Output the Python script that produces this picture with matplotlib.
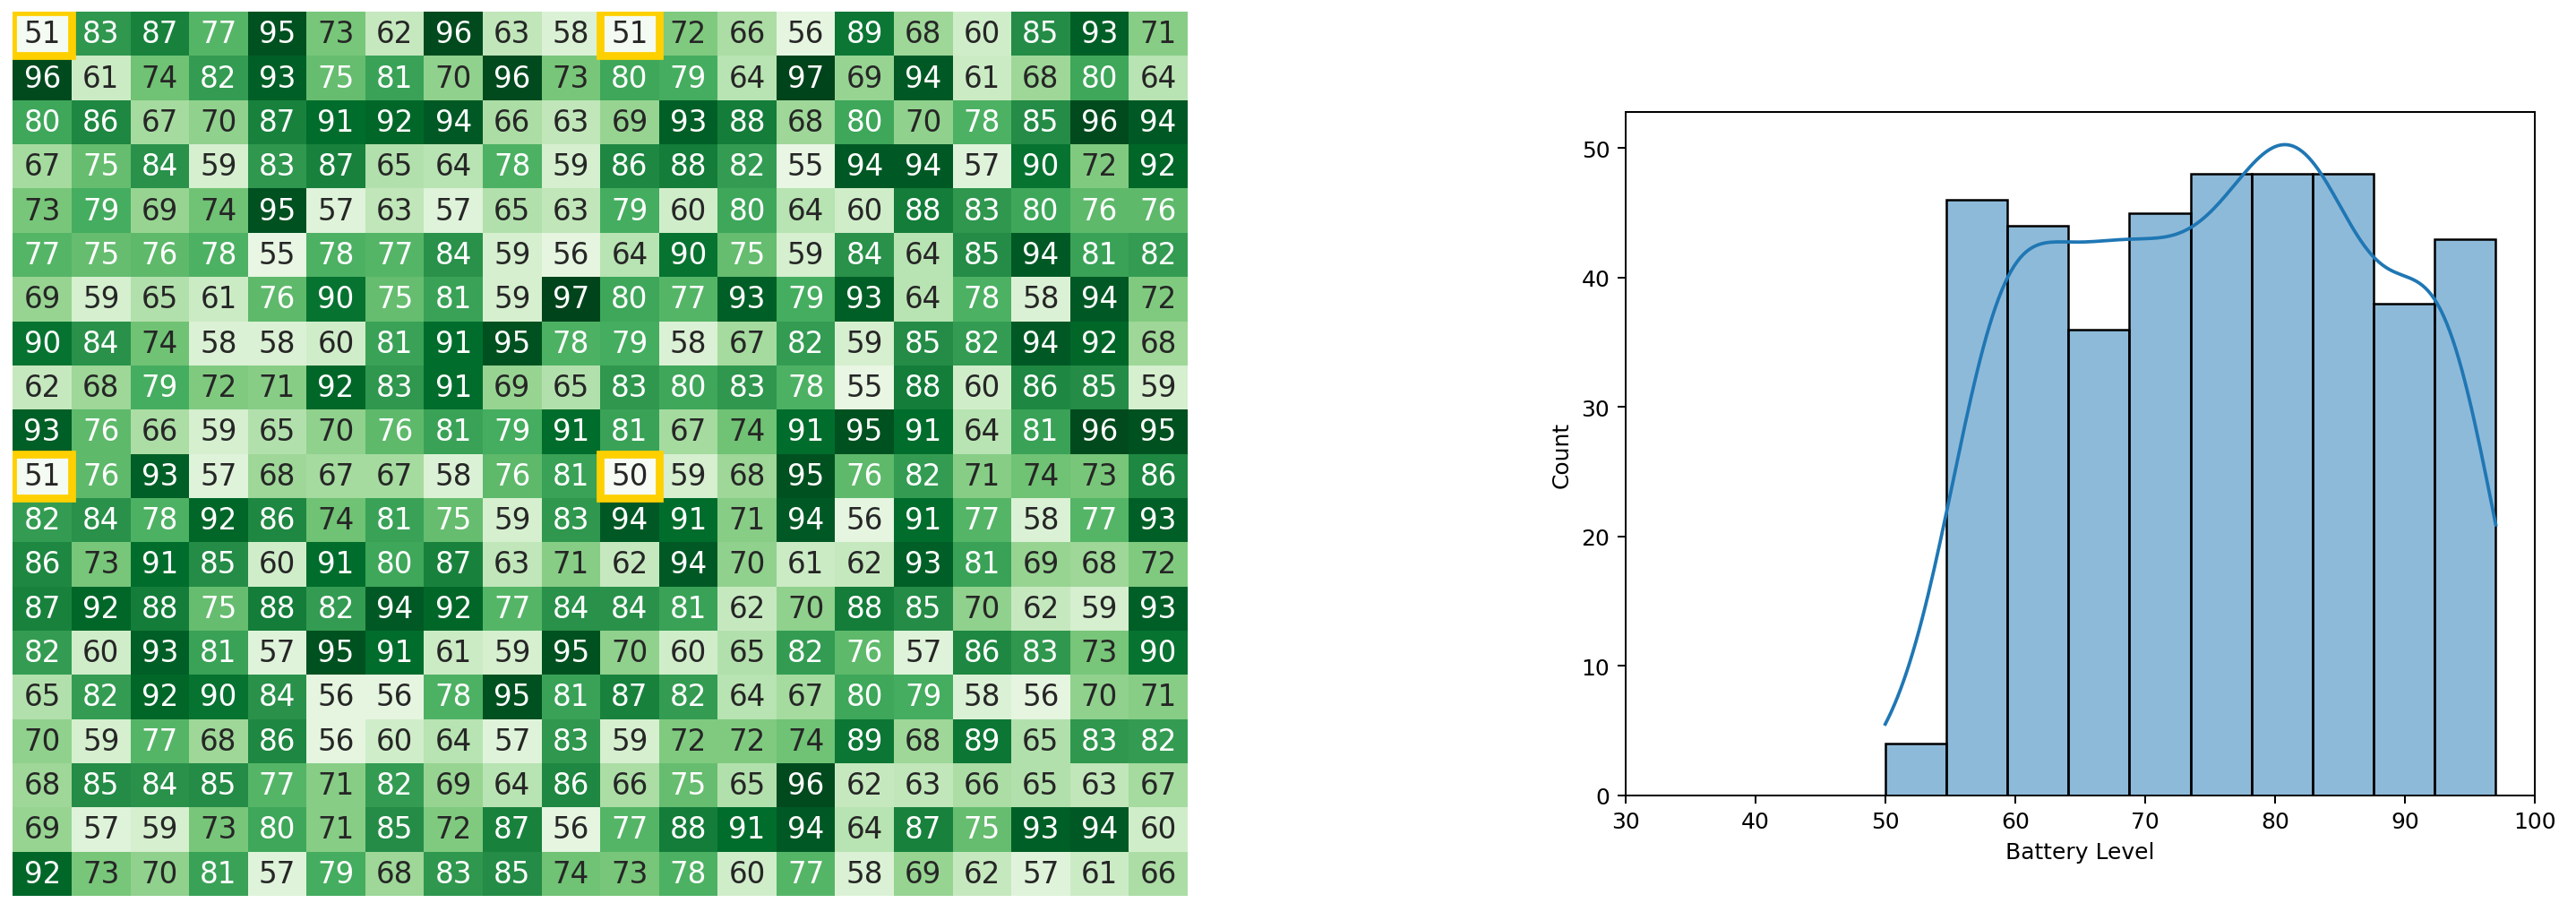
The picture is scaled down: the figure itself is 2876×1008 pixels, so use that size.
import numpy as np
import matplotlib
matplotlib.use("Agg")
import matplotlib.pyplot as plt
import seaborn as sns
from matplotlib.patches import Rectangle

battery = [
    [51, 83, 87, 77, 95, 73, 62, 96, 63, 58, 51, 72, 66, 56, 89, 68, 60, 85, 93, 71],
    [96, 61, 74, 82, 93, 75, 81, 70, 96, 73, 80, 79, 64, 97, 69, 94, 61, 68, 80, 64],
    [80, 86, 67, 70, 87, 91, 92, 94, 66, 63, 69, 93, 88, 68, 80, 70, 78, 85, 96, 94],
    [67, 75, 84, 59, 83, 87, 65, 64, 78, 59, 86, 88, 82, 55, 94, 94, 57, 90, 72, 92],
    [73, 79, 69, 74, 95, 57, 63, 57, 65, 63, 79, 60, 80, 64, 60, 88, 83, 80, 76, 76],
    [77, 75, 76, 78, 55, 78, 77, 84, 59, 56, 64, 90, 75, 59, 84, 64, 85, 94, 81, 82],
    [69, 59, 65, 61, 76, 90, 75, 81, 59, 97, 80, 77, 93, 79, 93, 64, 78, 58, 94, 72],
    [90, 84, 74, 58, 58, 60, 81, 91, 95, 78, 79, 58, 67, 82, 59, 85, 82, 94, 92, 68],
    [62, 68, 79, 72, 71, 92, 83, 91, 69, 65, 83, 80, 83, 78, 55, 88, 60, 86, 85, 59],
    [93, 76, 66, 59, 65, 70, 76, 81, 79, 91, 81, 67, 74, 91, 95, 91, 64, 81, 96, 95],
    [51, 76, 93, 57, 68, 67, 67, 58, 76, 81, 50, 59, 68, 95, 76, 82, 71, 74, 73, 86],
    [82, 84, 78, 92, 86, 74, 81, 75, 59, 83, 94, 91, 71, 94, 56, 91, 77, 58, 77, 93],
    [86, 73, 91, 85, 60, 91, 80, 87, 63, 71, 62, 94, 70, 61, 62, 93, 81, 69, 68, 72],
    [87, 92, 88, 75, 88, 82, 94, 92, 77, 84, 84, 81, 62, 70, 88, 85, 70, 62, 59, 93],
    [82, 60, 93, 81, 57, 95, 91, 61, 59, 95, 70, 60, 65, 82, 76, 57, 86, 83, 73, 90],
    [65, 82, 92, 90, 84, 56, 56, 78, 95, 81, 87, 82, 64, 67, 80, 79, 58, 56, 70, 71],
    [70, 59, 77, 68, 86, 56, 60, 64, 57, 83, 59, 72, 72, 74, 89, 68, 89, 65, 83, 82],
    [68, 85, 84, 85, 77, 71, 82, 69, 64, 86, 66, 75, 65, 96, 62, 63, 66, 65, 63, 67],
    [69, 57, 59, 73, 80, 71, 85, 72, 87, 56, 77, 88, 91, 94, 64, 87, 75, 93, 94, 60],
    [92, 73, 70, 81, 57, 79, 68, 83, 85, 74, 73, 78, 60, 77, 58, 69, 62, 57, 61, 66],
]
low_threshold = 51

grid = np.array(battery)

fig = plt.figure(figsize=(2876 / 180, 1009 / 180), dpi=180)
ax1 = fig.add_axes([0.005, 0.008, 0.456, 0.978])
ax2 = fig.add_axes([0.631, 0.119, 0.353, 0.756])

sns.heatmap(grid, ax=ax1, cmap="Greens", annot=True, fmt="d", cbar=False,
            annot_kws={"fontsize": 13}, xticklabels=False, yticklabels=False)
for r, c in zip(*np.where(grid <= low_threshold)):
    ax1.add_patch(Rectangle((c, r), 1, 1, fill=False, edgecolor="#FFD000", lw=3.5))

sns.histplot(grid.flatten(), kde=True, ax=ax2)
ax2.set_xlim(30, 100)
ax2.set_xlabel("Battery Level")
ax2.set_ylabel("Count")

fig.savefig("out.png", dpi=180)
